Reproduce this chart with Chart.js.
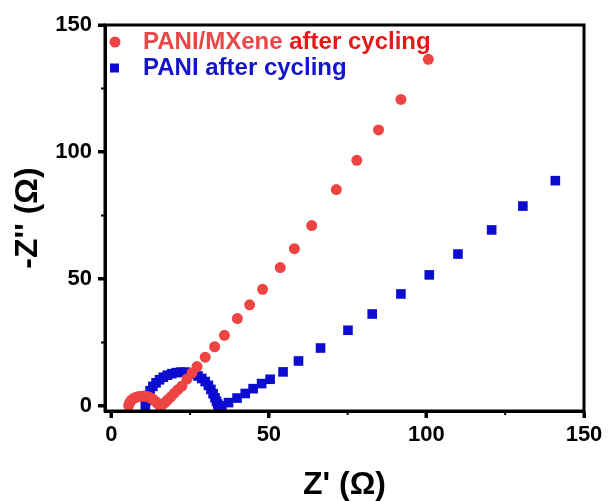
<!DOCTYPE html>
<html>
<head>
<meta charset="utf-8">
<script src="https://cdn.jsdelivr.net/npm/chart.js@4.4.1/dist/chart.umd.min.js"></script>
<style>
    html, body { margin: 0; padding: 0; background: #fff; }
</style>
</head>
<body>
<canvas id="myChart" width="609" height="501"></canvas>
<script>
// PANI/MXene after cycling (red circles)
const mxeneX = [5.5, 5.8, 6.3, 7.0, 7.8, 8.7, 9.7, 10.7, 11.7, 12.6, 13.4, 14.1, 14.7, 15.2, 15.6,
    16.2, 17.0, 17.9, 18.9, 20.0, 21.1, 22.4, 24.0, 25.6, 27.2, 29.8, 32.8, 35.9, 40.0, 43.9,
    48.0, 53.6, 58.1, 63.6, 71.4, 77.9, 84.8, 91.9, 100.6];
const mxeneY = [0.2, 1.2, 2.2, 2.9, 3.4, 3.7, 3.8, 3.8, 3.6, 3.1, 2.4, 1.7, 1.0, 0.4, 0.0,
    0.5, 1.3, 2.4, 3.6, 5.0, 6.4, 7.8, 10.6, 13.0, 15.5, 19.2, 23.3, 27.8, 34.4, 39.8,
    45.9, 54.5, 61.9, 71.0, 85.2, 96.7, 108.7, 120.7, 136.5];

// PANI after cycling (blue squares)
const paniX = [10.8, 11.1, 11.6, 12.3, 13.2, 14.2, 15.3, 16.5, 17.8, 19.2, 20.6, 22.0, 23.4,
    24.8, 26.2, 27.5, 28.7, 29.8, 30.8, 31.6, 32.3, 32.9, 33.4, 33.8, 34.1,
    35.1, 37.2, 39.9, 42.5, 45.0, 47.7, 50.4, 54.5, 59.4, 66.4, 75.1, 82.8, 91.9, 100.9,
    110.0, 120.7, 130.6, 140.9];
const paniY = [0, 2.1, 4.1, 6.0, 7.7, 9.1, 10.3, 11.3, 12.1, 12.7, 13.1, 13.3, 13.3,
    13.1, 12.6, 11.8, 10.8, 9.6, 8.1, 6.5, 4.8, 3.2, 1.8, 0.7, -0.3,
    0.0, 1.3, 3.1, 4.9, 6.8, 8.8, 10.5, 13.4, 17.7, 22.8, 29.8, 36.2, 44.1, 51.6,
    59.8, 69.3, 78.7, 88.7];

const xTicks = [0, 50, 100, 150];
const yTicks = [0, 50, 100, 150];
const minorTicks = [25, 75, 125];
const seriesLabels = ['PANI/MXene after cycling', 'PANI after cycling'];

const FONT = "'Liberation Sans', Arial, sans-serif";

// box round the plot, tick marks and the legend inside the plot
const framePlugin = {
    id: 'frame',
    afterDraw(chart) {
        const {ctx, chartArea: a, scales: {x, y}} = chart;
        ctx.save();
        ctx.strokeStyle = '#000';
        ctx.lineWidth = 3;
        ctx.strokeRect(a.left, a.top, a.right - a.left, a.bottom - a.top);

        // major ticks
        ctx.lineWidth = 3;
        ctx.beginPath();
        xTicks.forEach(v => {
            const px = Math.round(x.getPixelForValue(v));
            ctx.moveTo(px, a.bottom);
            ctx.lineTo(px, a.bottom + 7);
        });
        yTicks.forEach(v => {
            const py = Math.round(y.getPixelForValue(v));
            ctx.moveTo(a.left, py);
            ctx.lineTo(a.left - 7, py);
        });
        ctx.stroke();

        // minor ticks
        ctx.lineWidth = 2;
        ctx.beginPath();
        minorTicks.forEach(v => {
            const px = x.getPixelForValue(v);
            ctx.moveTo(px, a.bottom);
            ctx.lineTo(px, a.bottom + 4);
            const py = y.getPixelForValue(v);
            ctx.moveTo(a.left, py);
            ctx.lineTo(a.left - 4, py);
        });
        ctx.stroke();

        // legend
        ctx.font = 'bold 24px ' + FONT;
        ctx.textBaseline = 'middle';
        ctx.textAlign = 'left';
        const tx = a.left + 38;
        const y1 = a.top + 17, y2 = a.top + 43;

        ctx.fillStyle = '#ef4444';
        ctx.beginPath();
        ctx.arc(a.left + 10, y1, 5.5, 0, Math.PI * 2);
        ctx.fill();
        const first = 'PANI/MXene';
        ctx.fillStyle = '#ea4848';
        ctx.fillText(first, tx, y1);
        ctx.fillStyle = '#e81818';
        ctx.fillText(seriesLabels[0].slice(first.length), tx + ctx.measureText(first).width, y1);

        ctx.fillStyle = '#0c0cd0';
        ctx.fillRect(a.left + 5, y2 - 4.5, 9, 9);
        ctx.fillStyle = '#1414c8';
        ctx.fillText(seriesLabels[1], tx, y2);
        ctx.restore();
    }
};

const tickFont = {family: FONT, size: 22, weight: 'bold'};
const titleFont = {family: FONT, size: 32, weight: 'bold', lineHeight: 1};

const ctx = document.getElementById('myChart').getContext('2d');
new Chart(ctx, {
    type: 'scatter',
    data: {
        datasets: [{
            label: seriesLabels[0],
            data: mxeneX.map((v, i) => ({x: v, y: mxeneY[i]})),
            pointStyle: 'circle',
            pointRadius: 5.5,
            backgroundColor: '#ef4444',
            borderWidth: 0
        }, {
            label: seriesLabels[1],
            data: paniX.map((v, i) => ({x: v, y: paniY[i]})),
            pointStyle: 'rect',
            pointRadius: 6.8,
            backgroundColor: '#0c0cd0',
            borderWidth: 0
        }]
    },
    options: {
        responsive: false,
        animation: false,
        layout: {padding: {top: 25, right: 25, left: 0, bottom: 0}},
        plugins: {legend: {display: false}, tooltip: {enabled: false}},
        scales: {
            x: {
                type: 'linear',
                min: -2,
                max: 150,
                afterBuildTicks: s => { s.ticks = xTicks.map(v => ({value: v})); },
                afterFit: s => { s.height = 90; },
                grid: {drawOnChartArea: false, drawTicks: true, tickLength: 7, tickWidth: 3, tickColor: '#000'},
                border: {display: true, color: '#000', width: 3},
                ticks: {color: '#000', font: tickFont, padding: 4, maxRotation: 0},
                title: {display: true, text: "Z' (Ω)", color: '#000', font: titleFont, padding: {top: 0, bottom: 0}}
            },
            y: {
                type: 'linear',
                min: -2,
                max: 150,
                afterBuildTicks: s => { s.ticks = yTicks.map(v => ({value: v})); },
                afterFit: s => { s.width = 105; },
                grid: {drawOnChartArea: false, drawTicks: true, tickLength: 7, tickWidth: 3, tickColor: '#000'},
                border: {display: true, color: '#000', width: 3},
                ticks: {color: '#000', font: tickFont, padding: 6},
                title: {display: true, text: "-Z'' (Ω)", color: '#000', font: titleFont, padding: {top: 12, bottom: 0}}
            }
        }
    },
    plugins: [framePlugin]
});
</script>
</body>
</html>
